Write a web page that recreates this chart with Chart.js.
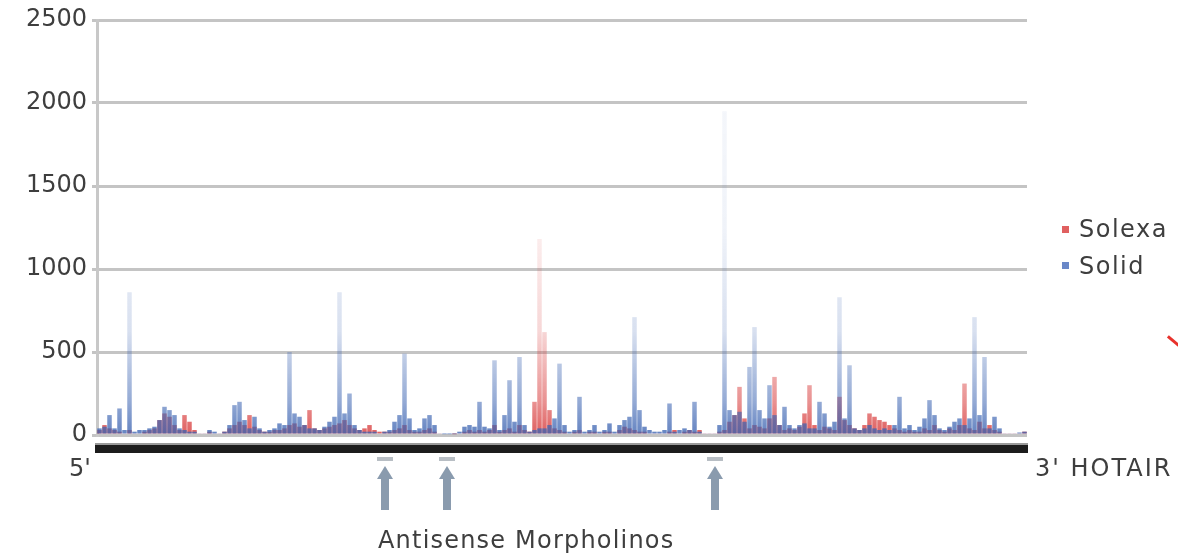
<!DOCTYPE html>
<html><head><meta charset="utf-8">
<script src="https://cdn.jsdelivr.net/npm/chart.js@4/dist/chart.umd.min.js"></script>
<style>
html,body{margin:0;padding:0;background:#fff;}
#wrap{position:relative;width:1178px;height:555px;overflow:hidden;}
canvas{position:absolute;left:0;top:0;}
.lbl{position:absolute;font-family:"DejaVu Sans",sans-serif;font-size:24px;color:#3e3e3e;white-space:nowrap;line-height:24px;}
.mk{position:absolute;width:7px;height:7px;}
#redmark{position:absolute;left:1166px;top:340px;width:16px;height:3px;background:#e8322c;transform:rotate(40deg);}
</style></head><body>
<div id="wrap">
<canvas id="c" width="1178" height="555"></canvas>
<div class="mk" style="left:1062px;top:226px;background:#e06060;"></div>
<div class="lbl" style="left:1079px;top:217px;letter-spacing:1.5px;">Solexa</div>
<div class="mk" style="left:1062px;top:262px;background:#6a88c8;"></div>
<div class="lbl" style="left:1079px;top:254px;letter-spacing:1.5px;">Solid</div>
<div class="lbl" style="left:69px;top:456px;">5'</div>
<div class="lbl" style="left:1035px;top:456px;letter-spacing:2px;">3' HOTAIR</div>
<div class="lbl" style="left:378px;top:528px;letter-spacing:1.2px;">Antisense Morpholinos</div>
<div id="redmark"></div>
</div>
<script>
// Read coverage per 5' -> 3' position bin along HOTAIR
const solexa = [
 30,60,40,30,20,10,30,10,10,20, 30,40,90,130,110,60,30,120,80,30,
 10,10,20,10,10,20,40,60,80,60, 120,50,30,20,20,30,30,40,60,70,
 50,60,150,40,30,40,50,60,70,90, 60,40,30,40,60,30,20,20,20,30,
 40,60,30,20,20,30,40,20,10,0, 0,5,10,20,30,20,30,20,30,60,
 20,30,40,20,60,30,20,200,1180,620, 150,40,30,20,10,20,30,10,20,20,
 10,20,20,10,30,50,40,30,20,20, 10,10,10,10,20,30,10,20,30,20,
 30,10,10,10,20,30,80,120,290,100, 40,60,50,40,100,350,60,30,40,30,
 50,130,300,60,30,50,40,30,230,90, 60,40,30,60,130,110,90,80,60,40,
 30,20,30,20,20,40,30,60,30,20, 40,30,60,310,40,30,80,40,60,30,
 20,10,10,10,10,20
];
const solid = [
 40,50,120,40,160,30,860,20,30,30, 40,50,90,170,150,120,40,30,20,20,
 10,10,30,20,10,20,60,180,200,90, 40,110,40,20,30,40,70,60,500,130,
 110,60,40,40,30,50,80,110,860,130, 250,60,30,20,20,20,10,20,30,80,
 120,490,100,30,40,100,120,60,10,5, 5,5,20,50,60,50,200,50,40,450,
 30,120,330,80,470,60,20,30,40,40, 60,100,430,60,20,30,230,20,30,60,
 20,30,70,20,60,90,110,710,150,50, 30,20,20,30,190,20,30,40,30,200,
 20,10,10,10,60,1950,150,120,140,80, 410,650,150,100,300,120,60,170,60,40,
 60,70,40,40,200,130,50,80,830,100, 420,40,30,40,60,40,30,40,30,60,
 230,40,60,30,50,100,210,120,40,30, 50,80,100,60,100,710,120,470,40,110,
 40,10,10,10,15,20
];
const bins = solexa.map((_, i) => String(i + 1));
const yTicks = [0, 500, 1000, 1500, 2000, 2500];
const morpholinoSites = [57.1, 69.5, 123.1]; // bin positions of antisense morpholinos

function grad(ctx, rgb) {
  const chart = ctx.chart, a = chart.chartArea;
  if (!a) return 'rgba(' + rgb + ',0.5)';
  const g = chart.ctx.createLinearGradient(0, a.bottom, 0, a.top);
  g.addColorStop(0, 'rgba(' + rgb + ',0.8)');
  g.addColorStop(0.08, 'rgba(' + rgb + ',0.55)');
  g.addColorStop(0.25, 'rgba(' + rgb + ',0.2)');
  g.addColorStop(0.5, 'rgba(' + rgb + ',0.08)');
  g.addColorStop(1, 'rgba(' + rgb + ',0.04)');
  return g;
}

const genePlugin = {
  id: 'gene',
  afterDraw(chart) {
    const c = chart.ctx, a = chart.chartArea, xs = chart.scales.x;
    c.save();
    c.fillStyle = '#1c1c1c';
    c.fillRect(a.left - 2, a.bottom + 9, a.right - a.left + 3, 9);
    c.fillStyle = '#9a9a9a';
    c.fillRect(a.left - 2, a.bottom + 8, a.right - a.left + 3, 2);
    morpholinoSites.forEach(s => {
      const px = xs.getPixelForValue(s);
      c.fillStyle = '#b8bec4';
      c.fillRect(px - 8, a.bottom + 22, 16, 4);
      c.fillStyle = '#8a9bae';
      c.fillRect(px - 4, a.bottom + 41, 8, 34);
      c.beginPath();
      c.moveTo(px - 8, a.bottom + 44);
      c.lineTo(px, a.bottom + 31);
      c.lineTo(px + 8, a.bottom + 44);
      c.closePath();
      c.fill();
    });
    c.restore();
  }
};

new Chart(document.getElementById('c'), {
  type: 'bar',
  data: {
    labels: bins,
    datasets: [
      { label: 'Solexa', data: solexa, order: 2, grouped: false,
        backgroundColor: ctx => grad(ctx, '215,55,55'), borderWidth: 0,
        barPercentage: 1, categoryPercentage: 0.9 },
      { label: 'Solid', data: solid, order: 1, grouped: false,
        backgroundColor: ctx => grad(ctx, '60,100,178'), borderWidth: 0,
        barPercentage: 1, categoryPercentage: 0.9 }
    ]
  },
  options: {
    responsive: false,
    animation: false,
    layout: { padding: { left: 0, top: 20, right: 151, bottom: 120 } },
    plugins: { legend: { display: false }, tooltip: { enabled: false } },
    scales: {
      x: { display: false },
      y: {
        min: 0, max: 2500,
        afterFit(s) { s.width = 97; },
        afterBuildTicks(s) { s.ticks = yTicks.map(v => ({ value: v })); },
        ticks: {
          callback: v => String(v),
          color: '#3e3e3e', padding: 5,
          font: { family: '"DejaVu Sans", sans-serif', size: 24 }
        },
        grid: { color: '#c4c4c4', lineWidth: 3, tickLength: 5 },
        border: { display: true, color: '#c8c8c8', width: 3 }
      }
    }
  },
  plugins: [genePlugin]
});
</script>
</body></html>
